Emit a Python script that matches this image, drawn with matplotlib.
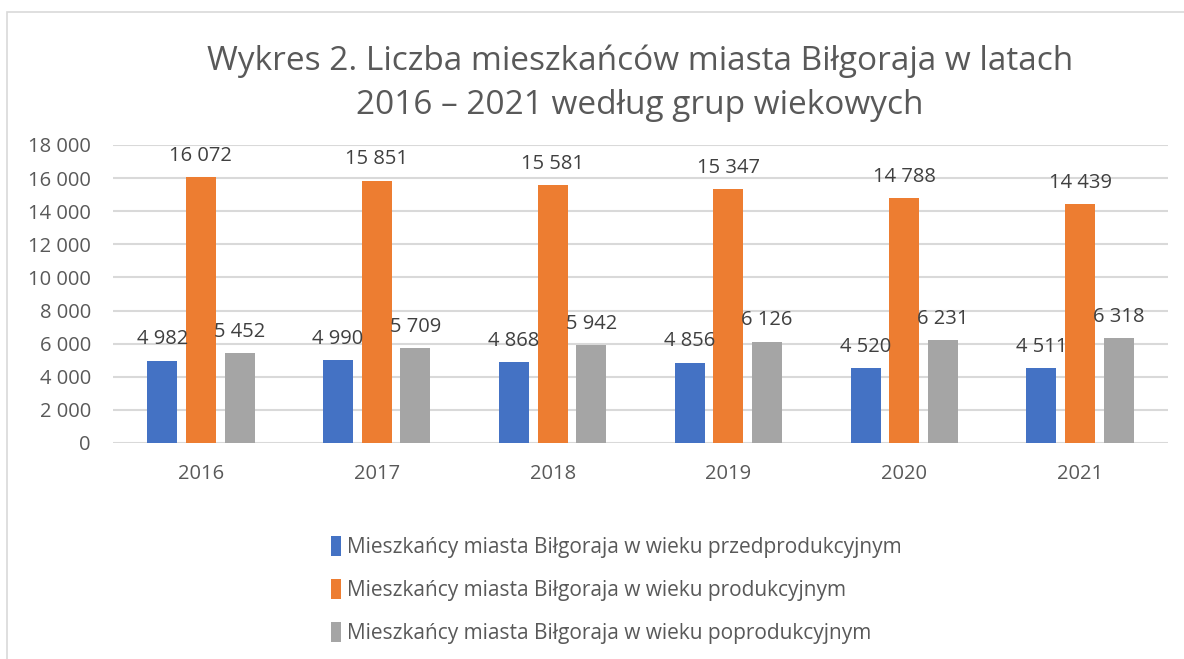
import matplotlib
matplotlib.use("Agg")
import matplotlib.pyplot as plt
import matplotlib.patches as patches
from matplotlib.ticker import FuncFormatter
import numpy as np

plt.rcParams['font.family'] = ['Open Sans', 'DejaVu Sans']

# dane
lata = ["2016", "2017", "2018", "2019", "2020", "2021"]
przedprodukcyjny = [4982, 4990, 4868, 4856, 4520, 4511]
produkcyjny = [16072, 15851, 15581, 15347, 14788, 14439]
poprodukcyjny = [5452, 5709, 5942, 6126, 6231, 6318]
etykiety = [
    "Mieszkańcy miasta Biłgoraja w wieku przedprodukcyjnym",
    "Mieszkańcy miasta Biłgoraja w wieku produkcyjnym",
    "Mieszkańcy miasta Biłgoraja w wieku poprodukcyjnym",
]
kolory = ["#4472c4", "#ed7d31", "#a5a5a5"]
tytul = "Wykres 2. Liczba mieszkańców miasta Biłgoraja w latach\n2016 – 2021 według grup wiekowych"


def fmt(v):
    return f"{int(v):,}".replace(",", " ")


W, H = 1184, 659
fig = plt.figure(figsize=(W / 100, H / 100), dpi=100)
fig.patch.set_facecolor("white")

# ramka wykresu
fig.patches.append(patches.Rectangle((7 / W, -0.1), 1.2, 1.1 - 12 / H,
                                     transform=fig.transFigure, fill=False,
                                     edgecolor="#d9d9d9", linewidth=1.2))

ax = fig.add_axes([113 / W, 1 - 443 / H, (1168 - 113) / W, (443 - 145) / H])

x = np.arange(len(lata))
szer = 0.17
odst = 0.22
serie = [przedprodukcyjny, produkcyjny, poprodukcyjny]
for i, (dane, kol, lab) in enumerate(zip(serie, kolory, etykiety)):
    pos = x + (i - 1) * odst
    ax.bar(pos, dane, width=szer, color=kol, label=lab, zorder=3)
    for p, v in zip(pos, dane):
        ax.annotate(fmt(v), (p, v), xytext=(0, 8), textcoords="offset points",
                    ha="center", va="bottom", fontsize=14.5, color="#404040", zorder=4)

ax.set_xlim(-0.5, len(lata) - 0.5)
ax.set_ylim(0, 18000)
ax.set_yticks(range(0, 18001, 2000))
ax.yaxis.set_major_formatter(FuncFormatter(lambda v, _: fmt(v)))
ax.set_xticks(x)
ax.set_xticklabels(lata)
ax.tick_params(axis="both", length=0, labelsize=14.5, labelcolor="#595959")
ax.tick_params(axis="x", pad=15)
ax.tick_params(axis="y", pad=16)
ax.grid(axis="y", color="#d9d9d9", linewidth=1.5, zorder=0)
for s in ax.spines.values():
    s.set_visible(False)

fig.text(640 / W, 1 - 83 / H, tytul, ha="center", va="center", fontsize=24,
         color="#595959", linespacing=1.45)

fig.legend(loc="upper left", bbox_to_anchor=(312 / W, 1 - 517 / H), frameon=False,
           handlelength=0.5, handleheight=1.1, handletextpad=0.3,
           labelspacing=1.0, fontsize=15, labelcolor="#595959")

fig.savefig("out.png", dpi=100)
